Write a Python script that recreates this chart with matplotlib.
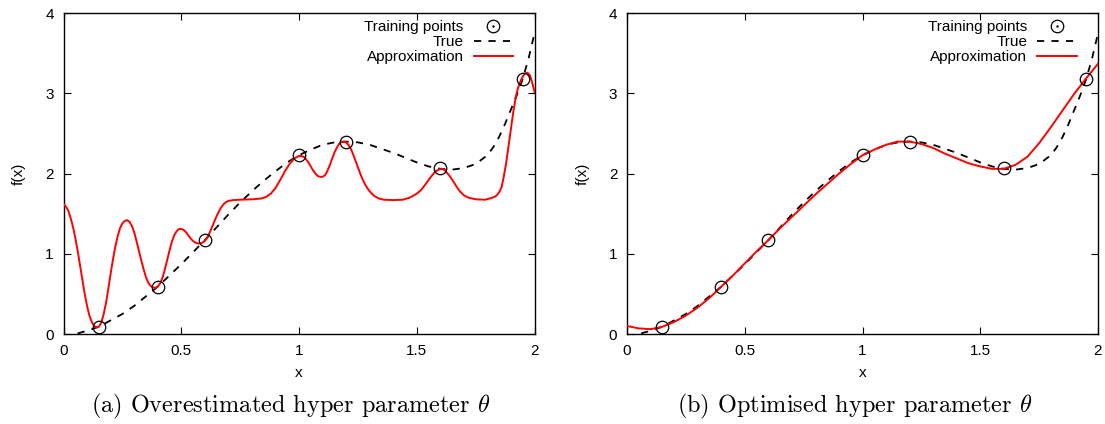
import numpy as np
import matplotlib
matplotlib.use("Agg")
from matplotlib import pyplot as plt
from matplotlib.lines import Line2D
from matplotlib.legend_handler import HandlerTuple

plt.rcParams['font.family'] = ['Liberation Sans', 'DejaVu Sans']
plt.rcParams['mathtext.fontset'] = 'cm'

# training data
train_x = [0.15, 0.4, 0.6, 1.0, 1.2, 1.6, 1.95]
train_y = [0.09, 0.59, 1.17, 2.23, 2.40, 2.07, 3.18]

# true function
true_x = [0.0, 0.05, 0.1, 0.15, 0.2, 0.25, 0.3, 0.35, 0.4, 0.45, 0.5, 0.55, 0.6,
          0.65, 0.7, 0.75, 0.8, 0.85, 0.9, 0.95, 1.0, 1.05, 1.1, 1.15, 1.2, 1.25,
          1.3, 1.35, 1.4, 1.45, 1.5, 1.55, 1.6, 1.65, 1.7, 1.75, 1.8, 1.825, 1.85,
          1.875, 1.9, 1.925, 1.95, 1.975, 2.0]
true_y = [-0.03, 0.0, 0.04, 0.09, 0.17, 0.25, 0.35, 0.47, 0.59, 0.73, 0.87, 1.02,
          1.17, 1.33, 1.49, 1.64, 1.78, 1.91, 2.03, 2.14, 2.23, 2.30, 2.36, 2.39,
          2.40, 2.39, 2.36, 2.31, 2.26, 2.20, 2.14, 2.09, 2.06, 2.05, 2.07, 2.12,
          2.23, 2.33, 2.46, 2.62, 2.80, 2.98, 3.18, 3.44, 3.75]

# GP approximation, overestimated theta
over_x = [0.0, 0.01, 0.02, 0.03, 0.04, 0.05, 0.06, 0.07, 0.08, 0.09, 0.10, 0.11,
          0.12, 0.13, 0.14, 0.15, 0.16, 0.17, 0.18, 0.19, 0.20, 0.21, 0.22, 0.23,
          0.24, 0.25, 0.26, 0.27, 0.28, 0.29, 0.30, 0.31, 0.32, 0.33, 0.34, 0.35,
          0.36, 0.37, 0.38, 0.39, 0.40, 0.41, 0.42, 0.43, 0.44, 0.45, 0.46, 0.47,
          0.48, 0.49, 0.50, 0.51, 0.52, 0.53, 0.54, 0.55, 0.56, 0.57, 0.58, 0.59,
          0.60, 0.61, 0.62, 0.63, 0.64, 0.65, 0.66, 0.67, 0.68, 0.69, 0.70, 0.72,
          0.75, 0.80, 0.84, 0.86, 0.88, 0.90, 0.92, 0.94, 0.96, 0.98, 1.00, 1.01,
          1.02, 1.03, 1.04, 1.05, 1.06, 1.07, 1.08, 1.09, 1.10, 1.11, 1.12, 1.13,
          1.14, 1.15, 1.16, 1.17, 1.18, 1.19, 1.20, 1.21, 1.22, 1.23, 1.24, 1.25,
          1.26, 1.27, 1.28, 1.29, 1.30, 1.32, 1.34, 1.36, 1.40, 1.44, 1.47, 1.50,
          1.52, 1.54, 1.56, 1.58, 1.60, 1.61, 1.62, 1.64, 1.66, 1.68, 1.70, 1.72,
          1.75, 1.79, 1.81, 1.82, 1.83, 1.84, 1.85, 1.86, 1.87, 1.88, 1.89, 1.90,
          1.91, 1.92, 1.93, 1.94, 1.95, 1.96, 1.97, 1.98, 1.99, 2.00]
over_y = [1.62, 1.59, 1.54, 1.45, 1.34, 1.20, 1.04, 0.86, 0.68, 0.50, 0.35, 0.23,
          0.15, 0.10, 0.085, 0.09, 0.14, 0.24, 0.38, 0.56, 0.75, 0.93, 1.09, 1.22,
          1.32, 1.38, 1.41, 1.42, 1.40, 1.35, 1.27, 1.16, 1.04, 0.92, 0.81, 0.71,
          0.64, 0.60, 0.58, 0.575, 0.59, 0.63, 0.70, 0.80, 0.92, 1.04, 1.15, 1.23,
          1.28, 1.31, 1.31, 1.30, 1.27, 1.23, 1.19, 1.16, 1.14, 1.13, 1.13, 1.14,
          1.16, 1.20, 1.26, 1.33, 1.40, 1.47, 1.53, 1.58, 1.62, 1.645, 1.66, 1.67,
          1.675, 1.68, 1.69, 1.71, 1.75, 1.82, 1.92, 2.03, 2.12, 2.19, 2.22, 2.22,
          2.21, 2.18, 2.14, 2.09, 2.04, 2.00, 1.97, 1.96, 1.96, 1.98, 2.03, 2.10,
          2.18, 2.26, 2.32, 2.37, 2.395, 2.40, 2.39, 2.36, 2.31, 2.24, 2.16, 2.08,
          2.00, 1.93, 1.87, 1.82, 1.78, 1.72, 1.69, 1.675, 1.67, 1.675, 1.70, 1.75,
          1.80, 1.88, 1.96, 2.03, 2.06, 2.06, 2.04, 1.97, 1.88, 1.79, 1.73, 1.70,
          1.68, 1.675, 1.69, 1.70, 1.71, 1.73, 1.77, 1.83, 1.97, 2.14, 2.35, 2.56,
          2.77, 2.95, 3.07, 3.15, 3.21, 3.25, 3.26, 3.23, 3.14, 3.02]

# GP approximation, optimised theta
opt_x = [0.0, 0.05, 0.1, 0.15, 0.2, 0.25, 0.3, 0.35, 0.4, 0.45, 0.5, 0.55, 0.6,
         0.65, 0.7, 0.75, 0.8, 0.85, 0.9, 0.95, 1.0, 1.05, 1.1, 1.15, 1.2, 1.25,
         1.3, 1.35, 1.4, 1.45, 1.5, 1.55, 1.6, 1.65, 1.7, 1.75, 1.8, 1.85, 1.9,
         1.95, 2.0]
opt_y = [0.10, 0.07, 0.06, 0.09, 0.15, 0.23, 0.33, 0.45, 0.59, 0.73, 0.88, 1.03,
         1.17, 1.32, 1.46, 1.60, 1.74, 1.87, 2.00, 2.12, 2.23, 2.30, 2.36, 2.40,
         2.40, 2.37, 2.32, 2.25, 2.19, 2.13, 2.09, 2.06, 2.06, 2.11, 2.21, 2.38,
         2.58, 2.79, 3.00, 3.19, 3.37]

captions = [r'(a) Overestimated hyper parameter $\theta$',
            r'(b) Optimised hyper parameter $\theta$']

W, H = 1105, 424
AW, AH = 471, 334 - 13.3
fig = plt.figure(figsize=(W / 100, H / 100), dpi=100)

panels = [(63.5, over_x, over_y), (627, opt_x, opt_y)]
for (left, ax_x, ax_y), cap in zip(panels, captions):
    ax = fig.add_axes([left / W, 1 - 334 / H, AW / W, AH / H])
    ax.plot(true_x, true_y, color='k', lw=1.3, linestyle=(0, (4, 4)),
            label='True', zorder=2)
    ax.plot(ax_x, ax_y, color='#ff0000', lw=1.4, label='Approximation', zorder=3)
    ax.plot(train_x, train_y, linestyle='none', marker='o', ms=9,
            mfc='none', mec='k', mew=0.9, zorder=4)
    ax.set_xlim(0, 2)
    ax.set_ylim(0, 4)
    ax.set_xticks([0, 0.5, 1, 1.5, 2])
    ax.set_xticklabels(['0', '0.5', '1', '1.5', '2'])
    ax.set_yticks([0, 1, 2, 3, 4])
    ax.tick_params(direction='in', length=5, width=0.8, top=True, right=True,
                   labelsize=11, pad=7)
    for s in ax.spines.values():
        s.set_linewidth(1.0)
    ax.set_xlabel('x', fontsize=11, labelpad=6)
    ax.set_ylabel('f(x)', fontsize=11, labelpad=14)

    # legend entries: circle with centre dot, dashed, solid
    circ = Line2D([], [], linestyle='none', marker='o', ms=9, mfc='none',
                  mec='k', mew=0.9)
    dot = Line2D([], [], linestyle='none', marker='.', ms=1.5, color='k')
    dash = Line2D([], [], color='k', lw=1.3, linestyle=(0, (4, 4)))
    red = Line2D([], [], color='#ff0000', lw=1.4)
    ax.legend([(circ, dot), dash, red], ['Training points', 'True', 'Approximation'],
              handler_map={tuple: HandlerTuple(ndivide=1)},
              loc='upper right', bbox_to_anchor=(1 - 12 / AW, 1 + 2 / AH),
              frameon=False, markerfirst=False, fontsize=11,
              handlelength=2.6, handletextpad=0.65, labelspacing=0.06,
              borderaxespad=0.2, borderpad=0.4)

    cx = (left + AW / 2 - 8) / W
    fig.text(cx, 1 - 406 / H, cap, ha='center', va='center', fontsize=17.5,
             family='cmr10')

plt.savefig('out.png', dpi=100)
